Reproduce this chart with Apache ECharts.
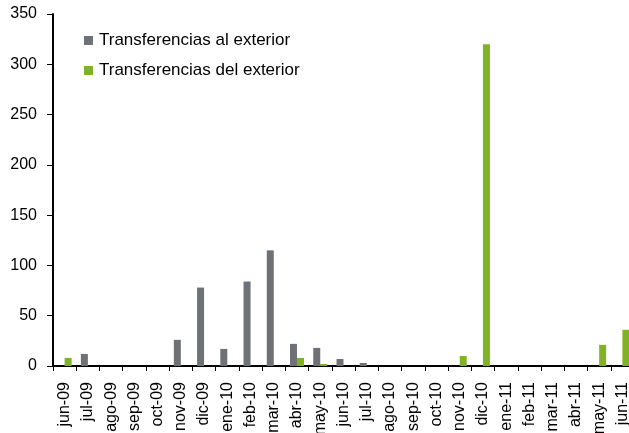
<!DOCTYPE html>
<html>
<head>
<meta charset="utf-8">
<script src="https://cdn.jsdelivr.net/npm/echarts@6/dist/echarts.min.js"></script>
<style>
  html, body { margin: 0; padding: 0; background: #fff; }
  #chart { width: 629px; height: 433px; }
</style>
</head>
<body>
<div id="chart"></div>
<script>
// Monthly categories, jun-09 to jun-11
const months = ['jun-09','jul-09','ago-09','sep-09','oct-09','nov-09','dic-09','ene-10','feb-10','mar-10',
  'abr-10','may-10','jun-10','jul-10','ago-10','sep-10','oct-10','nov-10','dic-10','ene-11',
  'feb-11','mar-11','abr-11','may-11','jun-11'];

// Transfers abroad
const alExterior = [0, 12, 0, 0, 0, 26, 78, 17, 84, 115,
  22, 18, 7, 3, 0, 0, 0, 0, 0, 0,
  0, 0, 0, 0, 0];

// Transfers from abroad
const delExterior = [8, 0, 0, 0, 0, 0, 0, 0, 0, 0,
  8, 2, 0, 0, 0, 0, 0, 10, 320, 0,
  0, 0, 0, 21, 36];

const yTicks = { min: 0, max: 350, interval: 50 };

const chart = echarts.init(document.getElementById('chart'), null, { renderer: 'canvas' });
const font = 'Liberation Sans, Arial, sans-serif';

chart.setOption({
  animation: false,
  backgroundColor: '#ffffff',
  textStyle: { fontFamily: font },
  legend: {
    orient: 'vertical',
    left: 79,
    top: 27,
    itemWidth: 9,
    itemHeight: 9,
    itemGap: 13,
    icon: 'rect',
    textStyle: { fontSize: 17, color: '#000', fontFamily: font, padding: [0, 0, 0, 1] },
    data: ['Transferencias al exterior', 'Transferencias del exterior']
  },
  // fixed plot rectangle; it runs a few pixels past the right edge and the
  // month labels are allowed to overflow the bottom
  grid: { left: 53, top: 14, width: 581, height: 352, containLabel: false, outerBoundsMode: 'none' },
  xAxis: {
    type: 'category',
    data: months,
    boundaryGap: true,
    axisLine: { lineStyle: { color: '#000', width: 2 } },
    axisTick: { show: true, interval: 0, length: 5, lineStyle: { color: '#000', width: 1 } },
    axisLabel: { interval: 0, rotate: 90, margin: 16, fontSize: 16, color: '#000', fontFamily: font }
  },
  yAxis: {
    type: 'value',
    min: yTicks.min,
    max: yTicks.max,
    interval: yTicks.interval,
    axisLine: { show: true, lineStyle: { color: '#000', width: 2 } },
    axisTick: { show: true, length: 6, lineStyle: { color: '#000', width: 1 } },
    splitLine: { show: false },
    axisLabel: { margin: 16, fontSize: 16, color: '#000', fontFamily: font }
  },
  series: [
    {
      name: 'Transferencias al exterior',
      type: 'bar',
      data: alExterior,
      barWidth: 7,
      barGap: '0%',
      itemStyle: { color: '#6E7276' }
    },
    {
      name: 'Transferencias del exterior',
      type: 'bar',
      data: delExterior,
      barWidth: 7,
      barGap: '0%',
      itemStyle: { color: '#80B226' }
    }
  ]
});
</script>
</body>
</html>
